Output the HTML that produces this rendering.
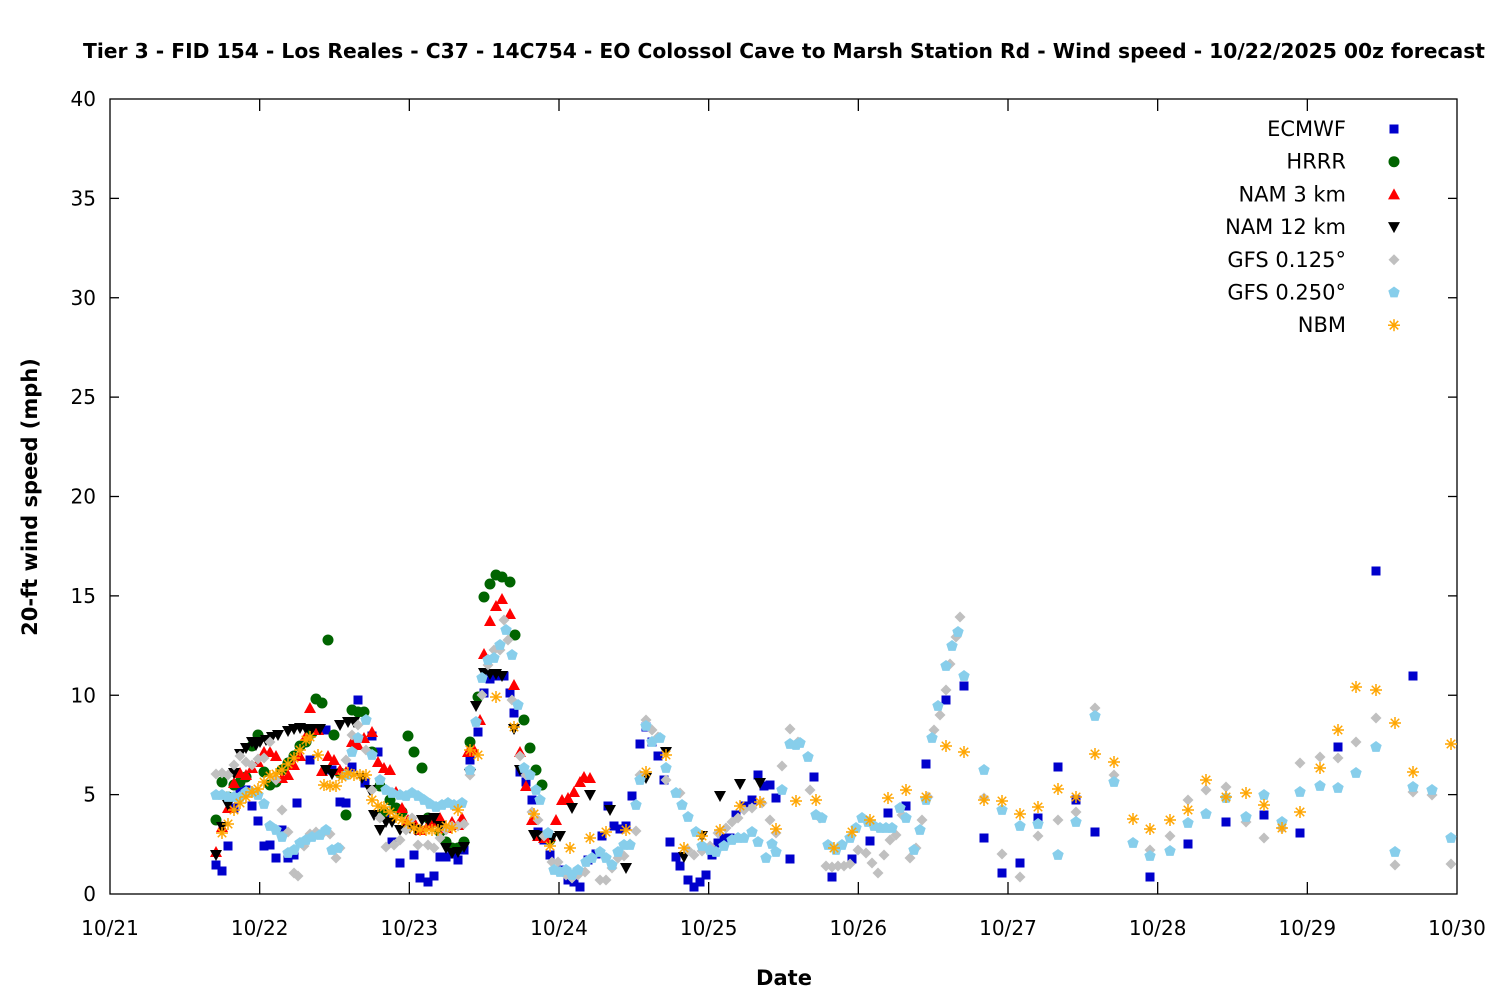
<!DOCTYPE html>
<html><head><meta charset="utf-8"><style>
body{margin:0;background:#fff}
svg text{font-family:"DejaVu Sans","Liberation Sans",sans-serif;fill:#000}
</style></head><body>
<svg id="s" width="1500" height="1000" xmlns="http://www.w3.org/2000/svg">
<rect width="1500" height="1000" fill="#fff"/>
<text x="784" y="58" font-size="20" font-weight="bold" text-anchor="middle" textLength="1402" lengthAdjust="spacingAndGlyphs">Tier 3 - FID 154 - Los Reales - C37 - 14C754 - EO Colossol Cave to Marsh Station Rd - Wind speed - 10/22/2025 00z forecast</text>
<text transform="translate(37,497) rotate(-90)" font-size="21" font-weight="bold" text-anchor="middle">20-ft wind speed (mph)</text>
<text x="784" y="985" font-size="21" font-weight="bold" text-anchor="middle">Date</text>
<g id="ax" stroke="#000" stroke-width="1.3" fill="none"><rect x="110" y="99" width="1347" height="795"/></g>
<g id="lab" font-size="20"></g>
<g id="pts"></g>
<g id="leg" font-size="21"></g>
</svg>
<script>
var ax=document.getElementById('ax'),lab=document.getElementById('lab'),pts=document.getElementById('pts'),leg=document.getElementById('leg');
var NS='http://www.w3.org/2000/svg';
function el(t,a,p){var e=document.createElementNS(NS,t);for(var k in a)e.setAttribute(k,a[k]);p.appendChild(e);return e;}
for(var i=0;i<=8;i++){var y=894-i*99.375;
 if(i>0&&i<8){el('line',{x1:110,y1:y,x2:119,y2:y},ax);el('line',{x1:1457,y1:y,x2:1448,y2:y},ax);}
 var t=el('text',{x:96,y:y+7,'text-anchor':'end'},lab);t.textContent=i*5;}
var days=['10/21','10/22','10/23','10/24','10/25','10/26','10/27','10/28','10/29','10/30'];
for(var i=0;i<=9;i++){var x=110+i*149.667;
 if(i>0&&i<9){el('line',{x1:x,y1:894,x2:x,y2:882},ax);el('line',{x1:x,y1:99,x2:x,y2:111},ax);}
 var t=el('text',{x:x,y:935,'text-anchor':'middle'},lab);t.textContent=days[i];}
function mk(type,x,y,p){
 switch(type){
 case 0:el('rect',{x:x-4.5,y:y-4.5,width:9,height:9,fill:'#0000cc'},p);break;
 case 1:el('circle',{cx:x,cy:y,r:5.5,fill:'#006400'},p);break;
 case 2:el('polygon',{points:(x)+','+(y-6)+' '+(x-6)+','+(y+5)+' '+(x+6)+','+(y+5),fill:'#ff0000'},p);break;
 case 3:el('polygon',{points:(x)+','+(y+6)+' '+(x-6)+','+(y-5)+' '+(x+6)+','+(y-5),fill:'#000'},p);break;
 case 4:el('polygon',{points:x+','+(y-5.5)+' '+(x+5.5)+','+y+' '+x+','+(y+5.5)+' '+(x-5.5)+','+y,fill:'#c0c0c0'},p);break;
 case 5:var s='';for(var k=0;k<5;k++){var a=-Math.PI/2+k*2*Math.PI/5;s+=(x+6*Math.cos(a))+','+(y+6*Math.sin(a))+' ';}el('polygon',{points:s,fill:'#87ceeb'},p);break;
 case 6:var g=el('g',{stroke:'#ffa500','stroke-width':1.5},p);for(var k=0;k<4;k++){var a=k*Math.PI/4;el('line',{x1:x-6*Math.cos(a),y1:y-6*Math.sin(a),x2:x+6*Math.cos(a),y2:y+6*Math.sin(a)},g);}break;}}
var D=[
[216,865,222,871,228,846,234,808,240,792,246,790,252,806,258,821,264,846,270,845,276,858,282,830,288,858,294,855,297,803,310,760,318,729,326,730,332,770,340,802,346,803,352,767,358,700,365,783,372,736,378,752,386,814,392,842,400,863,414,855,420,878,428,882,434,876,440,857,446,857,452,854,458,860,464,850,470,760,478,732,484,693,490,679,496,676,504,676,510,693,514,713,520,772,526,782,532,800,538,832,544,840,550,855,562,870,568,880,574,882,580,887,588,860,596,854,602,836,608,806,614,826,620,829,626,826,632,796,640,744,646,727,652,742,658,756,664,780,670,842,676,857,680,866,688,880,694,887,700,882,706,875,712,855,718,843,724,838,730,838,736,815,744,806,752,800,758,775,764,786,770,785,776,798,790,859,814,777,832,877,852,859,870,841,888,813,906,806,926,764,946,700,964,686,984,838,1002,873,1020,863,1038,818,1058,767,1076,800,1095,832,1150,877,1188,844,1226,822,1264,815,1300,833,1338,747,1376,571,1413,676],
[216,820,222,782,228,797,234,785,240,782,246,777,252,746,258,735,264,772,270,785,276,782,282,770,288,763,294,756,300,746,306,742,312,733,316,699,322,703,328,640,334,735,340,773,346,815,352,710,358,712,364,712,372,752,380,786,384,812,390,800,396,808,402,812,408,736,414,752,422,768,428,818,434,822,440,832,446,842,452,848,458,848,464,842,470,742,478,697,484,597,490,584,496,575,502,577,510,582,515,635,524,720,530,748,536,770,542,785,550,840],
[216,852,222,827,228,808,234,783,240,773,246,775,252,768,258,762,264,752,270,752,276,756,282,778,288,775,294,765,300,756,306,736,310,708,318,730,322,771,328,756,334,760,340,770,346,772,352,742,358,745,364,738,372,732,378,762,384,768,390,770,396,792,402,808,408,820,414,822,420,830,428,825,434,822,440,818,446,828,452,822,458,825,462,818,468,752,474,750,480,720,484,654,490,621,496,606,502,599,510,614,514,685,520,752,526,786,532,820,538,836,544,838,550,836,556,820,562,800,568,798,574,792,580,782,584,777,590,778],
[216,855,222,827,228,805,234,773,240,754,246,748,252,742,256,745,260,742,266,740,272,737,278,735,288,731,294,729,300,728,306,729,312,729,320,729,326,770,332,774,340,725,348,722,354,722,362,778,370,790,374,815,380,830,386,822,392,822,400,830,410,828,416,830,422,820,428,820,434,818,440,826,446,848,452,853,458,852,464,847,470,774,476,706,484,673,490,674,496,674,502,676,514,729,520,770,534,835,540,836,552,838,560,836,572,808,590,795,610,810,626,868,646,778,666,752,684,857,702,836,720,796,740,784,760,783],
[216,774,222,773,228,775,234,765,240,756,246,762,252,765,258,759,264,758,270,742,276,780,282,810,288,832,294,873,298,876,304,846,310,834,316,832,324,832,330,834,336,858,340,848,346,760,352,735,358,725,366,750,372,790,380,818,386,847,394,845,400,840,406,830,412,818,418,845,428,845,434,848,440,838,446,830,452,826,458,826,464,824,470,775,476,722,482,695,488,665,494,650,500,650,504,620,508,640,512,700,520,756,526,775,532,812,538,820,544,836,552,862,558,862,566,875,572,878,578,875,585,872,592,858,600,880,606,880,612,868,618,858,624,856,630,844,636,831,640,775,646,720,652,730,658,737,666,780,680,793,688,850,694,855,702,851,710,846,718,833,726,828,732,822,738,818,744,810,752,808,762,803,770,820,776,833,782,766,790,729,798,742,810,790,820,818,826,866,832,867,838,866,844,866,850,864,858,850,866,853,872,863,878,873,884,855,890,840,896,835,902,815,910,858,916,848,922,820,928,797,934,730,940,715,946,690,950,664,956,637,960,617,984,798,1002,854,1020,877,1038,836,1058,820,1076,812,1095,708,1114,775,1150,850,1170,836,1188,800,1206,790,1226,787,1246,822,1264,838,1282,828,1300,763,1320,757,1338,758,1356,742,1376,718,1395,865,1413,792,1432,795,1451,864],
[216,795,222,795,228,797,234,797,240,797,246,792,252,792,258,795,264,804,270,826,276,830,282,837,288,853,294,850,300,843,306,840,312,837,320,835,326,830,332,850,338,848,346,775,352,752,358,738,366,720,372,755,380,780,386,790,392,793,400,795,406,796,412,793,418,796,424,800,430,804,436,807,442,805,448,803,454,805,462,803,470,770,476,722,482,678,488,660,494,658,500,645,506,630,512,655,518,705,524,768,530,775,536,790,540,800,548,833,554,870,560,872,566,870,572,875,578,870,586,862,592,858,600,852,606,858,612,865,618,852,624,845,630,845,636,805,640,780,646,726,652,742,660,738,666,768,676,793,682,805,688,817,696,832,702,846,710,850,716,852,724,846,732,840,738,838,744,838,752,832,758,842,766,858,772,844,776,852,782,790,790,744,796,745,800,743,808,757,816,815,822,818,828,845,836,850,842,845,850,838,856,828,862,818,868,822,874,826,880,828,886,828,892,828,900,808,906,818,914,850,920,830,926,800,932,738,938,706,946,666,952,646,958,632,964,676,984,770,1002,810,1020,826,1038,824,1058,855,1076,822,1095,716,1114,782,1133,843,1150,856,1170,851,1188,823,1206,814,1226,798,1246,817,1264,795,1282,822,1300,792,1320,786,1338,788,1356,773,1376,747,1395,852,1413,787,1432,790,1451,838],
[222,833,228,824,234,810,240,803,246,797,252,792,258,789,264,782,270,776,276,774,282,770,288,764,294,758,300,750,306,740,310,737,318,755,324,785,330,786,336,786,342,777,348,773,354,775,360,775,366,775,372,800,378,806,384,807,390,812,396,817,402,820,408,823,414,828,420,830,426,830,432,830,438,830,446,826,452,828,458,810,470,750,478,755,496,697,514,727,534,814,550,846,570,848,590,838,606,832,626,830,646,772,666,755,684,848,702,836,720,830,740,806,760,802,776,829,796,801,816,800,834,848,852,832,870,820,888,798,906,790,926,797,946,746,964,752,984,800,1002,801,1020,814,1038,807,1058,789,1076,797,1095,754,1114,762,1133,819,1150,829,1170,820,1188,810,1206,780,1226,797,1246,793,1264,805,1282,828,1300,812,1320,768,1338,730,1356,687,1376,690,1395,723,1413,772,1451,744]];
for(var s=0;s<7;s++){var a=D[s];for(var i=0;i<a.length;i+=2)mk(s,a[i],a[i+1],pts);}
var names=['ECMWF','HRRR','NAM 3 km','NAM 12 km','GFS 0.125°','GFS 0.250°','NBM'];
for(var s=0;s<7;s++){var y=129+s*32.7;var t=el('text',{x:1346,y:y+7,'text-anchor':'end'},leg);t.textContent=names[s];mk(s,1394,y,leg);}
</script>
</body></html>
